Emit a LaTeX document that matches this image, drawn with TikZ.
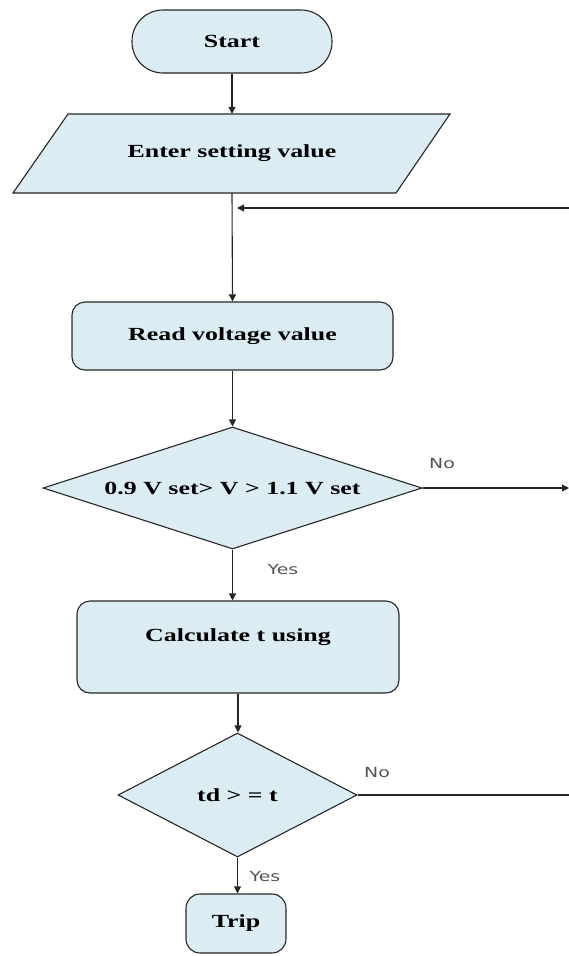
\documentclass[tikz,border=0pt]{standalone}
\usepackage{fontspec}
\usetikzlibrary{shapes.geometric,arrows.meta}
\newfontfamily\nodefont[FakeStretch=1.4]{Liberation Serif}
\newfontfamily\labfont[FakeStretch=1.35]{DejaVu Sans}
\definecolor{boxfill}{RGB}{219,236,243}
\definecolor{labgray}{RGB}{85,85,85}
\tikzset{
  base/.style={draw=black!85, line width=1.1pt, fill=boxfill, font=\nodefont\bfseries\fontsize{18.5}{22}\selectfont, inner sep=0pt},
  terminal/.style={base, rectangle, rounded corners=31pt, minimum width=200pt, minimum height=63pt},
  procbox/.style={base, rectangle, rounded corners=13pt},
  decision/.style={base, diamond, aspect=3},
  iotext/.style={font=\nodefont\bfseries\fontsize{18.5}{22}\selectfont, inner sep=0pt},
  flow/.style={draw=black!85, line width=1.1pt},
  arr/.style={flow, -{Triangle[length=7pt,width=7pt]}},
  lab/.style={font=\labfont\fontsize{14}{16}\selectfont, text=labgray, inner sep=0pt}
}
\begin{document}
\begin{tikzpicture}[x=1pt,y=-1pt]
\useasboundingbox (0,0) rectangle (569,956);
% Start
\node[terminal] (start) at (232,41.5) {Start};
% Input parallelogram
\filldraw[draw=black!85, line width=1.1pt, fill=boxfill] (68,114) -- (450,114) -- (396,193) -- (13,193) -- cycle;
\node[iotext, minimum width=300pt, minimum height=79pt] (enter) at (232,153.5) {Enter setting value};
% Read
\node[procbox, minimum width=321pt, minimum height=68pt] (read) at (232.5,336) {Read voltage value};
% Decision 1
\node[decision, minimum width=379pt, minimum height=122pt] (d1) at (232.5,488) {0.9 V set> V > 1.1 V set};
% Calculate
\node[procbox, minimum width=322pt, minimum height=92pt,
      label={[iotext, anchor=center, yshift=10pt]center:Calculate t using}] (calc) at (238,647) {};
% Decision 2
\node[decision, minimum width=239pt, minimum height=124pt] (d2) at (237.5,795) {td > = t};
% Trip
\node[procbox, rounded corners=14pt, minimum width=100pt, minimum height=59pt] (trip) at (236,923.5) {Trip};
% right edge coordinates
\coordinate (loopin) at (569,208);
\coordinate (junct) at (237,208);
\coordinate (no1end) at (569,488);
\coordinate (no2end) at (569,795);
% connectors
\draw[arr] (start.south) -- (enter.north);
\draw[arr] (enter.south) -- (read.north);
\draw[arr] (loopin) -- (junct);
\draw[arr] (read.south) -- (d1.north);
\draw[arr] (d1.east) -- (no1end);
\draw[arr] (d1.south) -- (d1.south |- calc.north);
\draw[arr] (calc.south) -- (calc.south |- d2.north);
\draw[flow] (d2.east) -- (no2end);
\draw[arr] (d2.south) -- (d2.south |- trip.north);
% labels
\node[lab] (no1) at (442,463) {No};
\node[lab] (yes1) at (283,569) {Yes};
\node[lab] (no2) at (377,772) {No};
\node[lab] (yes2) at (265,876) {Yes};
\end{tikzpicture}
\end{document}
